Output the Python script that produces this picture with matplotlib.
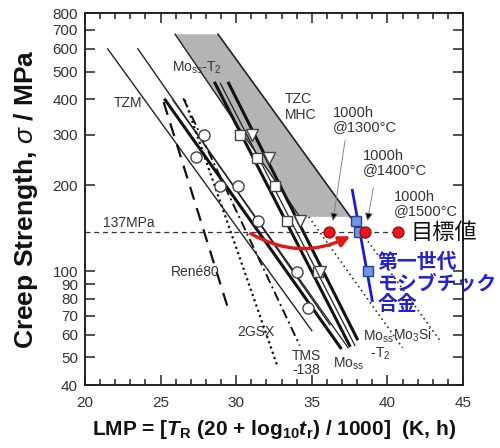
import numpy as np
import matplotlib.pyplot as plt
from matplotlib.ticker import FixedLocator, NullLocator, MultipleLocator
from matplotlib.patches import FancyArrowPatch, Polygon

plt.rcParams['font.family'] = ['Liberation Sans', 'Noto Sans CJK JP', 'DejaVu Sans']
plt.rcParams['mathtext.fontset'] = 'custom'
plt.rcParams['mathtext.rm'] = 'Liberation Sans'
plt.rcParams['mathtext.it'] = 'Liberation Sans:italic'
plt.rcParams['mathtext.bf'] = 'Liberation Sans:bold'
plt.rcParams['mathtext.bfit'] = 'Liberation Sans:italic:bold'

# --- data (LMP, stress MPa) ---
yticks = [40, 50, 60, 70, 80, 90, 100, 200, 300, 400, 500, 600, 700, 800]

band_x = [25.96, 28.8, 37.55, 34.2]
band_y = [675, 675, 155, 155]

tzm_x = [21.5, 35.0];    tzm_y = [600, 62]
thin_x = [23.5, 36.2];   thin_y = [600, 65]
moss_x = [25.3, 36.9];   moss_y = [398, 54]
most2a_x = [28.6, 37.5]; most2a_y = [455, 55]
most2b_x = [29.5, 38.0]; most2b_y = [455, 58]
rene_x = [25.2, 29.5];   rene_y = [391, 73]
gsx_x = [26.6, 32.7];    gsx_y = [398, 47]
tms_x = [26.5, 34.2];    tms_y = [403, 55]
mo3si1_x = [34.8, 41.0]; mo3si1_y = [155, 54]
mo3si2_x = [37.55, 43.5]; mo3si2_y = [155, 57]

circ_x = [27.88, 27.35, 28.94, 30.13, 31.46, 34.04, 34.77]
circ_y = [300, 251, 198, 198, 150, 99.4, 74.4]
sq_x = [30.26, 31.39, 32.58, 33.38, 35.43]
sq_y = [300, 249, 198, 150, 99.4]
tri_x = [31.06, 32.19, 34.24, 35.56]
tri_y = [300, 249, 150, 99.4]

mosib_x = [37.95, 38.15, 38.7]
mosib_y = [149.6, 137, 100]
mosib_line_x = [37.68, 39.0]
mosib_line_y = [192, 79]

target_x = [36.16, 38.5, 40.7]
target_y = [137, 137, 137]

fig = plt.figure(figsize=(5, 4.48), dpi=100)
ax = fig.add_axes([0.17, 0.1406, 0.756, 0.830])
ax.set_yscale('log')
ax.set_xlim(20, 45)
ax.set_ylim(40, 800)

ax.add_patch(Polygon(list(zip(band_x, band_y)), closed=True, fc='#b4b4b4', ec='none', zorder=1))
ax.plot([band_x[0], band_x[3]], [band_y[0], band_y[3]], color='#222', lw=1.0, zorder=2)
ax.plot([band_x[1], band_x[2]], [band_y[1], band_y[2]], color='#222', lw=1.2, zorder=2)

ax.plot(tzm_x, tzm_y, color='#222', lw=1.0)
ax.plot(thin_x, thin_y, color='#222', lw=1.0)
ax.plot(moss_x, moss_y, color='#111', lw=2.2)
ax.plot(most2a_x, most2a_y, color='#111', lw=2.2)
ax.plot(most2b_x, most2b_y, color='#111', lw=2.2)
ax.plot(np.array(most2a_x) + 0.35, most2a_y, color='#222', lw=0.9)
ax.plot(np.array(moss_x) + 0.5, moss_y, color='#222', lw=0.9)
ax.plot(rene_x, rene_y, color='#111', lw=1.6, ls=(0, (6, 4)))
ax.plot(gsx_x, gsx_y, color='#111', lw=1.6, ls=(0, (1, 1.5)))
ax.plot(tms_x, tms_y, color='#111', lw=1.4, ls=(0, (5, 2, 1, 2)))
ax.plot(mo3si1_x, mo3si1_y, color='#333', lw=1.2, ls=(0, (1, 2)))
ax.plot(mo3si2_x, mo3si2_y, color='#333', lw=1.2, ls=(0, (1, 2)))

ax.hlines(137, 20, target_x[-1], color='#333', lw=0.9, ls=(0, (4, 3)), zorder=3)

ax.plot(circ_x, circ_y, 'o', ms=8, mfc='white', mec='#444', mew=1.0, ls='none', zorder=4)
ax.plot(sq_x, sq_y, 's', ms=7, mfc='white', mec='#444', mew=1.0, ls='none', zorder=4)
ax.plot(tri_x, tri_y, 'v', ms=8, mfc='white', mec='#444', mew=1.0, ls='none', zorder=4)

ax.plot(mosib_line_x, mosib_line_y, color='#1a1ad8', lw=2.0, zorder=5)
ax.plot(mosib_x, mosib_y, 's', ms=7, mfc='#6f96e0', mec='#2a3f9a', mew=1.0, ls='none', zorder=6)
ax.plot(target_x, target_y, 'o', ms=8, mfc='#e8141e', mec='#a00000', mew=0.8, ls='none', zorder=6)

arr = FancyArrowPatch((30.8, 137), (37.7, 134), connectionstyle='arc3,rad=0.28',
                      arrowstyle='-|>', mutation_scale=16, color='#e01818', lw=2.4, zorder=5)
ax.add_patch(arr)

# 1000h annotations
ax.annotate('', xy=(36.4, 150), xytext=(37.2, 287),
            arrowprops=dict(arrowstyle='-|>', color='#777', lw=0.6, mutation_scale=12,
                            fc='black', ec='#777', shrinkA=0, shrinkB=0))
ax.annotate('', xy=(38.68, 150), xytext=(39.07, 196),
            arrowprops=dict(arrowstyle='-|>', color='#777', lw=0.6, mutation_scale=12,
                            fc='black', ec='#777', shrinkA=0, shrinkB=0))

tc = '#333'
fs = 10
ax.text(36.4, 338, '1000h\n@1300°C', fontsize=10.5, color=tc, va='center', ha='left', linespacing=1.05)
ax.text(38.4, 239, '1000h\n@1400°C', fontsize=10.5, color=tc, va='center', ha='left', linespacing=1.05)
ax.text(40.46, 172, '1000h\n@1500°C', fontsize=10.5, color=tc, va='center', ha='left', linespacing=1.05)

ax.text(22.85, 388, 'TZM', fontsize=fs, color=tc, ha='center', va='center')
ax.text(25.76, 514, r'Mo$_{\rm ss}$-T$_2$', fontsize=fs, color=tc, ha='left', va='center')
ax.text(33.2, 375, 'TZC\nMHC', fontsize=fs, color=tc, ha='left', va='center', linespacing=1.2)
ax.text(21.2, 147, '137MPa', fontsize=fs, color=tc, ha='left', va='center')
ax.text(25.7, 99.4, 'René80', fontsize=fs, color=tc, ha='left', va='center')
ax.text(30.07, 61.2, '2GSX', fontsize=fs, color=tc, ha='left', va='center')
ax.text(33.7, 47.6, 'TMS\n-138', fontsize=fs, color=tc, ha='left', va='center', linespacing=1.0)
ax.text(36.4, 47.3, r'Mo$_{\rm ss}$', fontsize=fs, color=tc, ha='left', va='center')
ax.text(38.4, 55, 'Mo$_{\\rm ss}$\n  -T$_2$', fontsize=fs, color=tc, ha='left', va='center', linespacing=1.1)
ax.text(40.4, 59.8, r'Mo$_3$Si', fontsize=fs, color=tc, ha='left', va='center')

ax.text(41.5, 137, '目標値', fontsize=16, color='#111', ha='left', va='center',
        family=['Noto Sans CJK JP'], clip_on=False)
ax.text(39.34, 91, '第一世代\nモシブチック\n合金', fontsize=14.3, color='#2424c8', ha='left', va='center',
        family=['Noto Sans CJK JP'], fontweight='bold', linespacing=1.0, clip_on=False)

ax.yaxis.set_major_locator(FixedLocator(yticks))
ax.yaxis.set_minor_locator(NullLocator())
ax.set_yticklabels([str(v) for v in yticks])
ax.xaxis.set_major_locator(MultipleLocator(5))
ax.xaxis.set_minor_locator(MultipleLocator(1))

ax.tick_params(which='both', direction='in', top=True, right=True, labelsize=11, colors='#333', width=1.2)
ax.tick_params(which='major', length=7)
ax.tick_params(which='minor', length=4)
ax.tick_params(axis='x', pad=8)
ax.tick_params(axis='y', pad=5)
for s in ax.spines.values():
    s.set_linewidth(1.4)
    s.set_color('#222')

ax.set_ylabel(r'Creep Strength, $\sigma$ / MPa', fontsize=19, fontweight='bold', color='#111', labelpad=9)
ax.set_xlabel(r'LMP = [$\mathbfit{T}_{\mathbf{R}}$ (20 + log$_{\mathbf{10}}$$\mathbfit{t}_{\mathbf{r}}$) / 1000]  (K, h)',
              fontsize=15, fontweight='bold', color='#111', labelpad=6)

fig.savefig('out.png', dpi=100)
